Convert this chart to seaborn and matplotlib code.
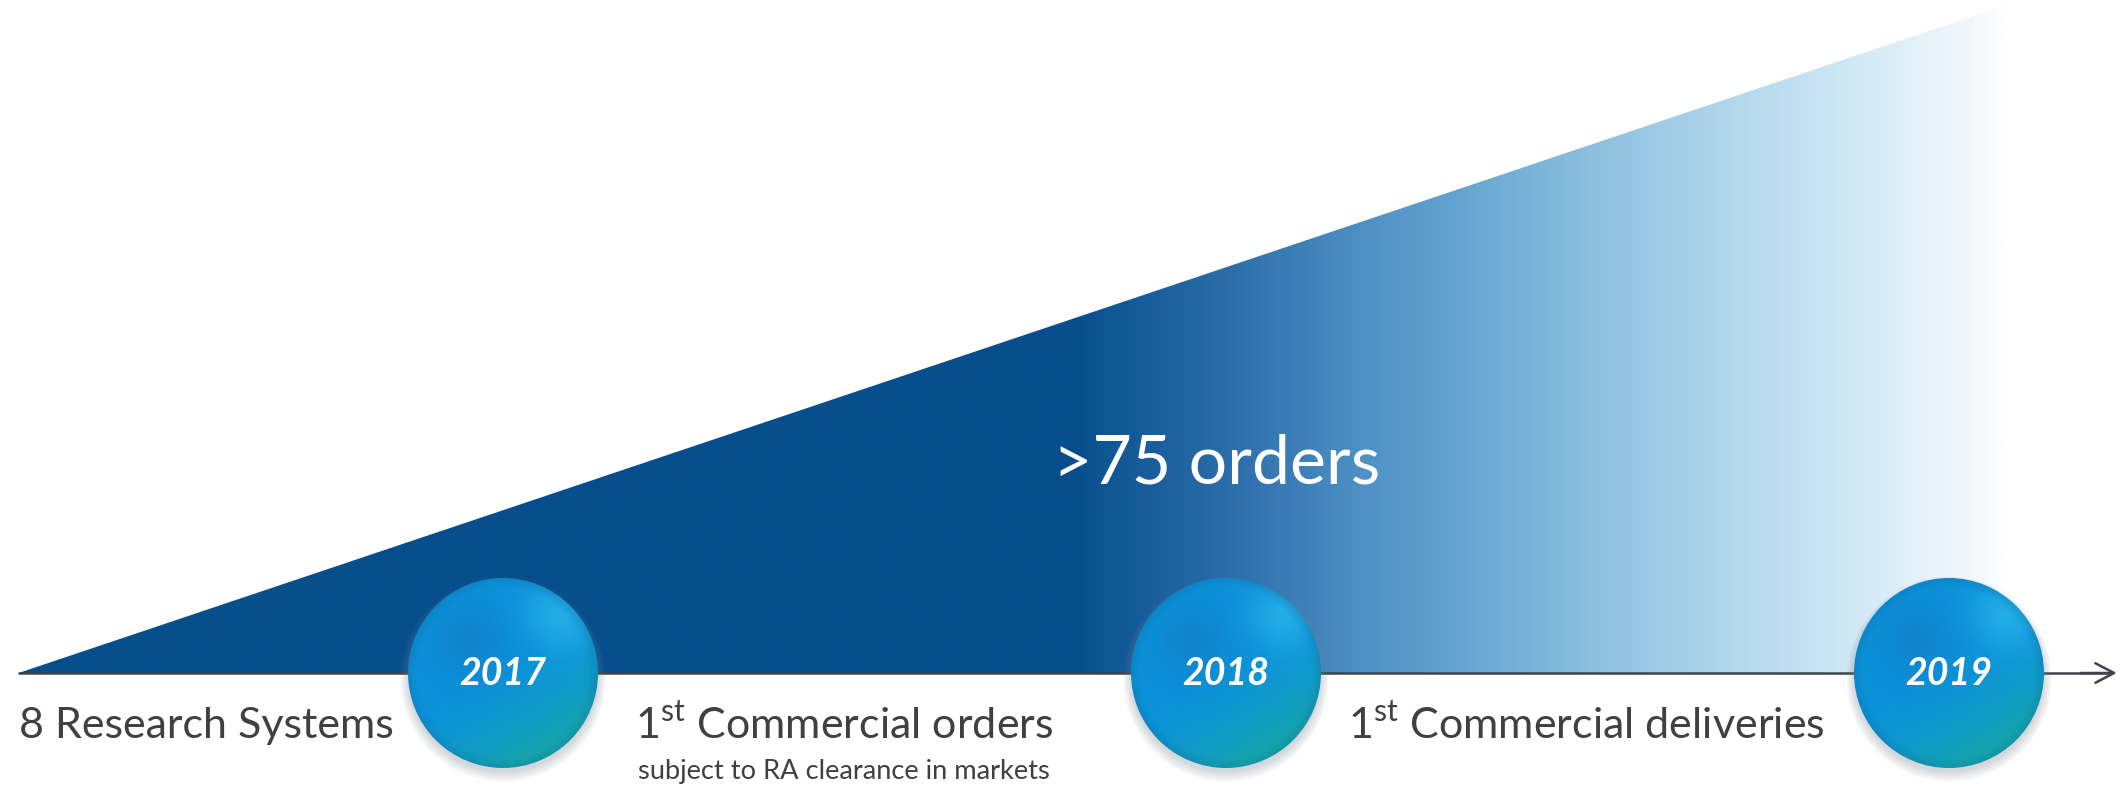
'''Timeline graphic: ramp of orders with milestone bubbles'''
import numpy as np
import seaborn as sns
import matplotlib.pyplot as plt
from matplotlib.colors import LinearSegmentedColormap, to_rgb
from matplotlib.patches import Polygon, Ellipse

# data
years = [2017, 2018, 2019]
ramp_x = [2016.33, 2019.077]      # start of timeline, end of the orders ramp
ramp_y = [0, 100]                 # relative order volume
arrow_end = 2019.232
orders_label = ">75 orders"
left_label = "8 Research Systems"
phase_labels = ["1$^{\\mathrm{st}}$ Commercial orders", "1$^{\\mathrm{st}}$ Commercial deliveries"]
phase_x = [2017.472, 2018.499]
phase_note = "subject to RA clearance in markets"

# pixel scale of the 2124x786 canvas
PX_X = 723.0    # px per year
PX_Y = 6.674    # px per unit on y
x_lo = 2017 - 503 / PX_X
x_hi = 2017 + (2124 - 503) / PX_X
y_lo = -(786 - 673) / PX_Y
y_hi = 673 / PX_Y

sns.set_theme(style="white")
plt.rcParams['font.family'] = ['Lato', 'DejaVu Sans']
plt.rcParams['mathtext.fontset'] = 'custom'
plt.rcParams['mathtext.rm'] = 'Lato'

fig = plt.figure(figsize=(21.24, 7.86), dpi=100)
ax = fig.add_axes([0, 0, 1, 1])
ax.set_xlim(x_lo, x_hi)
ax.set_ylim(y_lo, y_hi)
ax.axis('off')

# ramp: solid navy, then fading to white towards the right
stops = [(0.0, '#064E8C'), (0.533, '#064E8C'), (0.548, '#0F5694'), (0.575, '#1B5F9E'),
         (0.608, '#2B6DA9'), (0.64, '#3A7DB6'), (0.673, '#4B8FC4'), (0.707, '#5C9CCB'),
         (0.741, '#6EABD4'), (0.806, '#93C4E2'), (0.877, '#B9DBEE'), (0.947, '#DDEEF8'),
         (0.985, '#F3F8FC'), (1.0, '#FDFEFF')]
ramp_cmap = LinearSegmentedColormap.from_list('ramp', stops)
grad = np.linspace(0, 1, 800).reshape(1, -1)
img = ax.imshow(grad, cmap=ramp_cmap, aspect='auto', interpolation='bilinear',
                extent=[ramp_x[0], ramp_x[1], ramp_y[0], ramp_y[1]], zorder=1)
tri = Polygon([(ramp_x[0], ramp_y[0]), (ramp_x[1], ramp_y[1]), (ramp_x[1], ramp_y[0])],
              closed=True, facecolor='none', edgecolor='none', transform=ax.transData)
ax.add_patch(tri)
img.set_clip_path(tri)

# timeline axis
sns.lineplot(x=[ramp_x[0], arrow_end - 0.01], y=[0, 0], color='#3E4349', lw=1.8,
             ax=ax, zorder=2)
ax.annotate('', xy=(arrow_end, 0), xytext=(arrow_end - 0.05, 0),
            arrowprops=dict(arrowstyle='->,head_length=0.42,head_width=0.22',
                            color='#3E4349', lw=1.8, mutation_scale=32,
                            shrinkA=0, shrinkB=0), zorder=2)

# bubble shading
n = 300
u, v = np.meshgrid(np.linspace(-1, 1, n), np.linspace(1, -1, n))
r = np.sqrt(u ** 2 + v ** 2)
blue = np.array(to_rgb('#0B92DA'))
dark = np.array(to_rgb('#1673BA'))
teal = np.array(to_rgb('#16A6A8'))
cyan = np.array(to_rgb('#3CCAF2'))
t_teal = np.clip((-v * 0.8 + u * 0.45 + 0.1), 0, 1) ** 1.6
shade = blue * (1 - t_teal[..., None]) + teal * t_teal[..., None]
w_dark = np.exp(-((u + 0.35) ** 2 + (v - 0.35) ** 2) / 0.16) * 0.45
shade = shade * (1 - w_dark[..., None]) + dark * w_dark[..., None]
w_cyan = np.exp(-((u - 0.55) ** 2 + (v - 0.55) ** 2) / 0.12) * 0.6 * np.clip(r, 0, 1)
shade = shade * (1 - w_cyan[..., None]) + cyan * w_cyan[..., None]
edge = np.clip((r - 0.9) / 0.1, 0, 1)[..., None] * 0.22
shade = shade * (1 - edge) + np.array(to_rgb('#0B5E8E')) * edge
shade = np.clip(shade, 0, 1)

bw = 190 / PX_X
bh = 190 / PX_Y
for yr in years:
    # soft shadow
    for k in range(6):
        ax.add_patch(Ellipse((yr, -4 / PX_Y - k * 0.4 / PX_Y), bw + k * 3 / PX_X,
                             bh + k * 3 / PX_Y, facecolor='#7A8590', edgecolor='none',
                             alpha=0.06, zorder=3))
    circ = Ellipse((yr, 0), bw, bh, facecolor='none', edgecolor='none', zorder=4)
    ax.add_patch(circ)
    im = ax.imshow(shade, extent=[yr - bw / 2, yr + bw / 2, -bh / 2, bh / 2],
                   aspect='auto', interpolation='bilinear', zorder=4)
    im.set_clip_path(circ)
    ax.text(yr, -12 / PX_Y, str(yr), color='white', fontsize=27, fontweight='bold',
            fontstyle='italic', ha='center', va='baseline', zorder=5)

# labels
ax.text(ramp_x[0], -65 / PX_Y, left_label, color='#404040', fontsize=31,
        ha='left', va='baseline', zorder=5)
for x, lab in zip(phase_x, phase_labels):
    ax.text(x, -65 / PX_Y, lab, color='#404040', fontsize=31,
            ha='center', va='baseline', zorder=5)
ax.text(phase_x[0], -106 / PX_Y, phase_note, color='#404040', fontsize=19.6,
        ha='center', va='baseline', zorder=5)
ax.text(2018 - 9 / PX_X, (673 - 483) / PX_Y, orders_label, color='white', fontsize=49,
        ha='center', va='baseline', zorder=5)

fig.savefig('out.png', dpi=100, facecolor='white')
